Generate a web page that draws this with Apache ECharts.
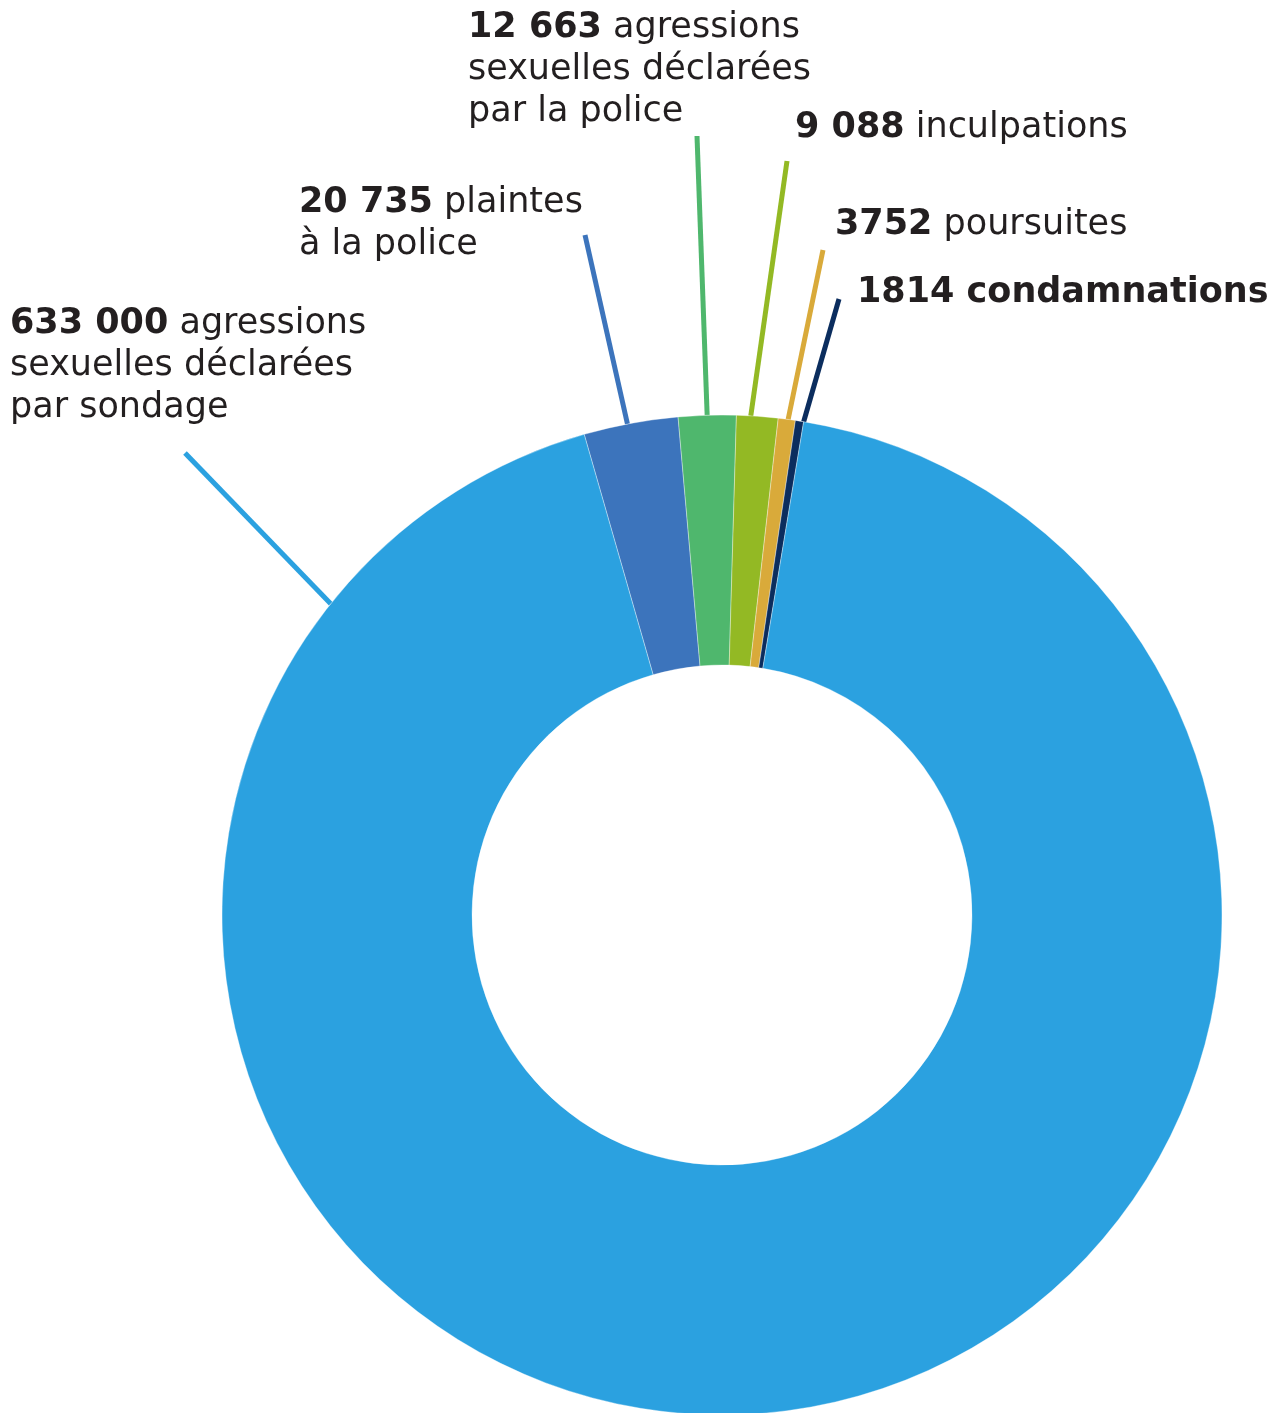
<!DOCTYPE html>
<html>
<head>
<meta charset="utf-8">
<script src="https://cdn.jsdelivr.net/npm/echarts@6/dist/echarts.min.js"></script>
<style>
html,body{margin:0;padding:0;background:#ffffff;}
#c{width:1270px;height:1413px;}
</style>
</head>
<body>
<div id="c"></div>
<script>
// ---- data ----
const categories = [
  'plaintes à la police',
  'agressions sexuelles déclarées par la police',
  'inculpations',
  'poursuites',
  'condamnations',
  'agressions sexuelles déclarées par sondage'
];
const values = [20735, 12663, 9088, 3752, 1814, 633000];
const valueTexts = ['20 735', '12 663', '9 088', '3752', '1814', '633 000'];
const labelTexts = [
  ' plaintes\nà la police',
  ' agressions\nsexuelles déclarées\npar la police',
  ' inculpations',
  ' poursuites',
  ' condamnations',
  ' agressions\nsexuelles déclarées\npar sondage'
];
const allBold = [false, false, false, false, true, false];

// ---- styles / layout ----
const colors = ['#3C74BC', '#4FB76D', '#93B924', '#D9AA3A', '#0B2D5E', '#2BA1E0'];
const CX = 722, CY = 915, R_IN = 250, R_OUT = 500;
const FONT = 35, LH = 42;
const labelAnchors = [[299, 182], [468, 7], [795, 107], [835, 204], [857, 272], [10, 303]];
const leaderAngles = [-10.9, -1.7, 3.3, 7.6, 9.4, -51.5]; // degrees clockwise from 12 o'clock
const leaderEnds = [[585, 235], [697, 136], [787, 161], [823, 250], [839, 299], [185, 453]];

const chart = echarts.init(document.getElementById('c'), null, {renderer: 'canvas'});

const seriesData = categories.map((c, i) => ({
  name: c,
  value: values[i],
  itemStyle: {color: colors[i]}
}));

chart.setOption({
  animation: false,
  backgroundColor: '#ffffff',
  series: [{
    type: 'pie',
    center: [CX, CY],
    radius: [R_IN, R_OUT],
    startAngle: 106,
    clockwise: true,
    avoidLabelOverlap: false,
    data: seriesData,
    itemStyle: {borderColor: 'rgba(255,255,255,0.5)', borderWidth: 0.7},
    emphasis: {disabled: true},
    label: {
      show: true,
      position: 'outside',
      fontFamily: 'DejaVu Sans',
      fontSize: FONT,
      lineHeight: LH,
      color: '#231F20',
      formatter: function (p) {
        const i = p.dataIndex;
        if (allBold[i]) return '{b|' + valueTexts[i] + labelTexts[i] + '}';
        return '{b|' + valueTexts[i] + '}' + labelTexts[i];
      },
      rich: {
        b: {fontFamily: 'DejaVu Sans', fontWeight: 'bold', fontSize: FONT, lineHeight: LH, color: '#231F20'}
      }
    },
    labelLine: {
      show: true,
      length: 10,
      length2: 0,
      smooth: false,
      lineStyle: {width: 5}
    },
    labelLayout: function (params) {
      const i = params.dataIndex;
      const a = leaderAngles[i] * Math.PI / 180;
      const sx = CX + R_OUT * Math.sin(a);
      const sy = CY - R_OUT * Math.cos(a);
      const e = leaderEnds[i];
      return {
        x: labelAnchors[i][0],
        y: labelAnchors[i][1],
        align: 'left',
        verticalAlign: 'top',
        labelLinePoints: [[sx, sy], [e[0], e[1]], [e[0], e[1]]]
      };
    }
  }]
});
</script>
</body>
</html>
